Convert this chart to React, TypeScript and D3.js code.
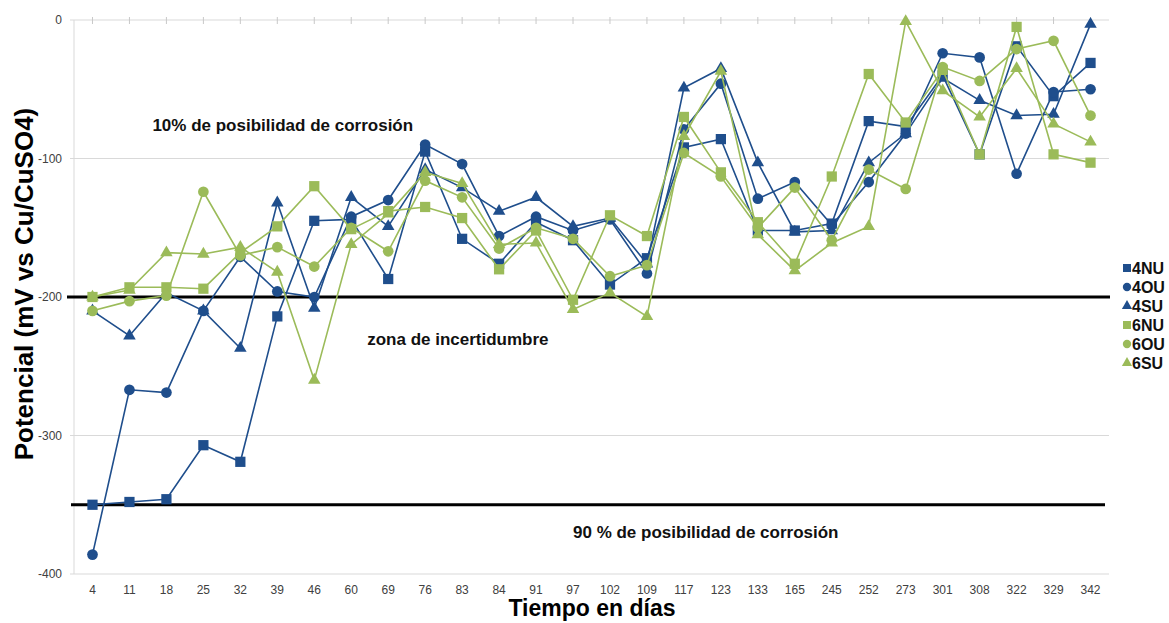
import React from 'react';
import * as d3 from 'd3';

const categories = ["4","11","18","25","32","39","46","60","69","76","83","84","91","97","102","109","117","123","133","165","245","252","273","301","308","322","329","342"];

const s4NU = [-350,-348,-346,-307,-319,-214,-145,-144,-187,-95,-158,-176,-146,-159,-191,-172,-92,-86,-152,-152,-147,-73,-77,-40,-97,-19,-55,-31];
const s4OU = [-386,-267,-269,-210,-171,-196,-200,-142,-130,-90,-104,-156,-142,-152,-144,-183,-79,-46,-129,-117,-148,-117,-82,-24,-27,-111,-52,-50];
const s4SU = [-210,-228,-197,-210,-237,-132,-208,-128,-149,-108,-121,-138,-128,-149,-143,-176,-49,-35,-103,-153,-152,-103,-82,-42,-58,-69,-68,-3];
const s6NU = [-200,-193,-193,-194,-168,-149,-120,-151,-138,-135,-143,-180,-152,-202,-141,-156,-70,-110,-146,-176,-113,-39,-74,-36,-97,-5,-97,-103];
const s6OU = [-210,-203,-199,-124,-170,-164,-178,-150,-167,-116,-128,-165,-150,-158,-185,-177,-96,-113,-150,-121,-159,-108,-122,-34,-44,-21,-15,-69];
const s6SU = [-200,-195,-168,-169,-164,-182,-260,-162,-140,-110,-118,-162,-161,-209,-197,-214,-84,-37,-155,-181,-161,-149,-1,-51,-70,-35,-75,-88];

const seriesNames = ["4NU","4OU","4SU","6NU","6OU","6SU"];
const yTicks = [0,-100,-200,-300,-400];
const thresholds = [-200,-350];
const annotationTexts = ["10% de posibilidad de corrosión", "zona de incertidumbre", "90 % de posibilidad de corrosión"];
const annotationValues = [-76, -230, -370];
const annotationCats = ["18", "69", "97"];

const BLUE = "#1F4E8C";
const GREEN = "#9BBB59";
const FONT = "'Liberation Sans', Arial, sans-serif";

export default function App() {
  const W = 1169, H = 623;
  const x = d3.scaleBand<string>().domain(categories).range([74, 1109]);
  const cx = (c: string) => (x(c) as number) + x.bandwidth() / 2;
  const y = d3.scaleLinear().domain([-400, 0]).range([574, 20]);
  const annDx = [-14, -21, 0];

  const series = [
    { name: seriesNames[0], values: s4NU, color: BLUE, shape: d3.symbolSquare, size: 105, lsize: 64 },
    { name: seriesNames[1], values: s4OU, color: BLUE, shape: d3.symbolCircle, size: 90, lsize: 55 },
    { name: seriesNames[2], values: s4SU, color: BLUE, shape: d3.symbolTriangle, size: 68, lsize: 45 },
    { name: seriesNames[3], values: s6NU, color: GREEN, shape: d3.symbolSquare, size: 105, lsize: 64 },
    { name: seriesNames[4], values: s6OU, color: GREEN, shape: d3.symbolCircle, size: 90, lsize: 55 },
    { name: seriesNames[5], values: s6SU, color: GREEN, shape: d3.symbolTriangle, size: 68, lsize: 45 },
  ];

  const line = d3.line<number>().x((_, i) => cx(categories[i])).y(d => y(d));

  return (
    <svg width={W} height={H} style={{ position: 'absolute', left: 0, top: 0, background: '#fff' }} fontFamily={FONT}>
      <rect x={0} y={0} width={W} height={H} fill="#fff" />
      {/* gridlines */}
      {yTicks.filter(t => t !== -200).map(t => (
        <line key={t} x1={70} x2={1109} y1={y(t)} y2={y(t)} stroke="#d9d9d9" strokeWidth={1} />
      ))}
      <line x1={74} x2={74} y1={y(0)} y2={y(-400)} stroke="#d9d9d9" strokeWidth={1} />
      {/* top category ticks */}
      {categories.map(c => (
        <line key={c} x1={cx(c)} x2={cx(c)} y1={y(0) - 3} y2={y(0) + 4} stroke="#c8c8c8" strokeWidth={1} />
      ))}
      {/* y tick labels */}
      {yTicks.map(t => (
        <text key={t} x={62} y={y(t)} dy="0.35em" textAnchor="end" fontSize={12} fill="#404040">{t}</text>
      ))}
      {/* x tick labels */}
      {categories.map(c => (
        <text key={c} x={cx(c)} y={594} textAnchor="middle" fontSize={12} fill="#404040">{c}</text>
      ))}
      {/* threshold lines */}
      <line x1={67} x2={1110} y1={y(thresholds[0])} y2={y(thresholds[0])} stroke="#000" strokeWidth={3} />
      <line x1={71} x2={1105} y1={y(thresholds[1])} y2={y(thresholds[1])} stroke="#000" strokeWidth={3} />
      {/* annotations */}
      {annotationTexts.map((t, i) => (
        <text key={t} x={cx(annotationCats[i]) + annDx[i]} y={y(annotationValues[i])} dy="0.35em" fontSize={17} fontWeight="bold" fill="#111">{t}</text>
      ))}
      {/* series */}
      {series.map(s => (
        <g key={s.name}>
          <path d={line(s.values) || ''} fill="none" stroke={s.color} strokeWidth={1.6} />
          {s.values.map((v, i) => (
            <path key={i} transform={`translate(${cx(categories[i])},${y(v)})`}
              d={d3.symbol().type(s.shape).size(s.size)() || ''} fill={s.color} />
          ))}
        </g>
      ))}
      {/* legend */}
      {series.map((s, i) => (
        <g key={s.name} transform={`translate(1127,${268 + i * 19})`}>
          <path d={d3.symbol().type(s.shape).size(s.lsize)() || ''} fill={s.color} />
          <text x={5} y={0} dy="0.35em" fontSize={16} fontWeight="bold" fill="#111">{s.name}</text>
        </g>
      ))}
      {/* axis titles */}
      <text transform={`translate(33,${284}) rotate(-90)`} textAnchor="middle" fontSize={26} fontWeight="bold" fill="#000">Potencial (mV vs Cu/CuSO4)</text>
      <text x={592} y={616} textAnchor="middle" fontSize={23} fontWeight="bold" fill="#000">Tiempo en días</text>
    </svg>
  );
}
